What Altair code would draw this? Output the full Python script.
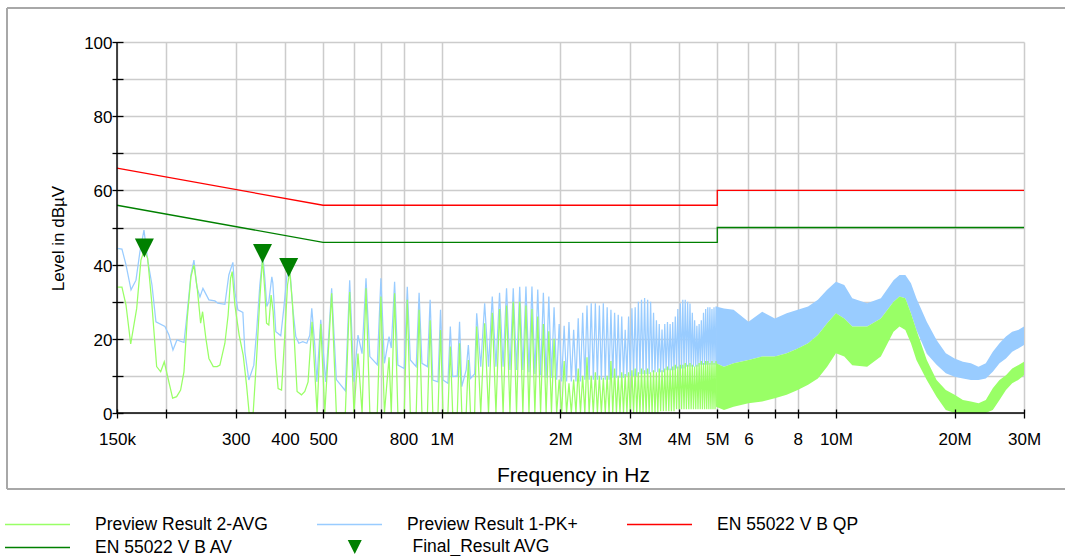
import altair as alt
import pandas as pd

FONT = "Liberation Sans"

# ---------------- data (frequencies in kHz, levels in dBuV) ----------------
LOW_PK_F = [150, 154.4, 158.1, 162.8, 167.6, 171.5, 175.6, 179.7, 184.0, 188.3,
            198.5, 203.2, 208.0, 212.9, 221.8, 225.7, 231.0, 235.1, 239.2, 243.5,
            247.8, 256.6, 265.7, 270.4, 281.7, 288.3, 295.2, 298.6, 303.9, 312.9,
            316.6, 324.0, 333.6, 339.5, 345.5, 351.6, 355.8, 359.9, 364.1, 370.6,
            372.8, 379.3, 383.8, 390.5, 397.4, 404.5, 411.6, 418.9, 426.3, 433.8,
            444.0, 454.6, 462.6, 468.0, 476.3, 481.9, 493.2, 507.8]
LOW_PK = [44.4, 44.2, 39.9, 33.2, 35.8, 43.5, 49.3, 40.8, 34.5, 24.6,
          23.3, 21.0, 17.0, 19.7, 19.0, 26.4, 37.2, 41.2, 34.0, 31.3,
          33.6, 30.5, 30.2, 29.6, 29.3, 37.2, 40.6, 32.7, 27.8, 27.1,
          16.5, 8.9, 12.9, 22.8, 34.5, 42.6, 36.3, 28.7, 30.0, 36.7,
          35.0, 21.9, 21.5, 20.8, 28.2, 36.7, 39.0, 28.2, 20.6, 18.8,
          19.2, 18.8, 21.0, 28.2, 18.3, 8.4, 25.1, 8.4]

LOW_AVG_F = [150, 154.4, 158.1, 162.5, 168.3, 172.5, 175.9, 179.4, 183.7, 189.1,
             193.6, 197.7, 203.5, 207.6, 212.5, 217.5, 221.8, 226.1, 231.0, 235.1,
             239.7, 244.5, 247.3, 252.1, 256.6, 263.2, 269.3, 273.6, 281.7, 287.1,
             291.2, 294.0, 298.6, 306.2, 313.5, 319.7, 324.6, 332.3, 339.0, 345.5,
             351.0, 355.8, 359.3, 364.1, 369.0, 373.4, 378.7, 384.5, 392.2, 399.8,
             406.1, 411.6, 418.2, 426.3, 429.5, 440.7, 449.3, 458.0, 468.8, 476.3,
             482.7, 493.2, 505.0]
LOW_AVG = [33.9, 33.9, 29.1, 18.6, 28.2, 41.2, 43.9, 41.7, 30.0, 12.5,
           11.1, 13.8, 8.0, 4.0, 4.4, 6.2, 11.1, 25.5, 36.7, 39.9,
           33.6, 24.2, 27.3, 20.1, 14.7, 12.5, 12.5, 12.9, 18.8, 26.4,
           36.3, 38.1, 29.1, 21.0, 15.6, 7.5, 0.0, 0.0, 14.7, 30.9,
           41.7, 32.7, 24.2, 23.7, 31.8, 27.3, 14.7, 6.6, 6.2, 21.0,
           34.5, 38.1, 29.1, 12.0, 5.8, 4.9, 5.8, 8.4, 24.6, 11.1,
           0.0, 24.0, 0.0]

HF_KHZ = [525.6, 540.2, 569.4, 584.0, 598.6, 613.0, 627.8, 642.4, 657.0, 686.2,
          700.8, 715.4, 735.0, 744.6, 759.2, 773.8, 803.0, 817.6, 832.2, 861.4,
          876.0, 890.6, 919.8, 934.4, 949.0, 978.2, 992.8, 1007.4, 1036.6, 1051.2,
          1065.8, 1095.0, 1109.6, 1124.2, 1153.4, 1168.0, 1182.6, 1211.8,
          1226.4, 1255.6, 1284.8, 1314.0, 1343.2, 1372.4, 1401.6, 1430.8,
          1460.0, 1489.2, 1518.4, 1547.6, 1576.8, 1606.0, 1635.2, 1664.4,
          1693.6, 1722.8, 1752.0, 1781.2, 1810.4, 1839.6, 1868.8, 1898.0,
          1927.2, 1956.4, 1985.6, 2014.8, 2044.0, 2073.2, 2102.4, 2131.6,
          2160.8, 2190.0, 2219.2, 2248.4, 2277.6, 2306.8, 2336.0, 2365.2,
          2394.4, 2423.6, 2452.8, 2482.0, 2511.2, 2540.4, 2569.6, 2598.8,
          2628.0, 2657.2, 2686.4, 2715.6, 2744.8, 2774.0, 2803.2, 2832.4,
          2861.6, 2890.8, 2920.0, 2949.2, 2978.4, 3007.6, 3036.8, 3066.0,
          3095.2, 3124.4, 3153.6, 3182.8, 3212.0, 3241.2, 3270.4, 3299.6,
          3328.8, 3358.0, 3387.2, 3416.4, 3445.6, 3474.8, 3504.0, 3533.2,
          3562.4, 3591.6, 3620.8, 3650.0, 3679.2, 3708.4, 3737.6, 3766.8,
          3796.0, 3825.2, 3854.4, 3883.6, 3912.8, 3942.0, 3971.2, 4000.4,
          4029.6, 4058.8, 4088.0, 4117.2, 4146.4, 4175.6, 4204.8, 4234.0,
          4263.2, 4292.4, 4321.6, 4350.8, 4380.0, 4409.2, 4438.4, 4467.6,
          4496.8, 4526.0, 4555.2, 4584.4, 4613.6, 4642.8, 4672.0, 4701.2,
          4730.4, 4759.6, 4788.8, 4818.0, 4847.2, 4876.4, 4905.6, 4934.8,
          4964.0]
HF_PK = [33.6, 9.0, 6.0, 35.8, 8.4, 21.0, 16.0, 36.3, 15.2, 13.0,
         36.3, 13.4, 20.6, 17.5, 35.4, 12.9, 12.0, 34.0, 14.3, 12.5,
         32.4, 13.4, 12.5, 30.5, 8.9, 8.4, 27.8, 8.9, 8.0, 23.3,
         9.8, 10.0, 24.6, 7.1, 11.6, 18.3, 9.3, 10.5,
         26.9, 12.5, 29.6, 12.5, 31.4, 12.5, 32.4, 12.5,
         33.6, 11.6, 33.6, 11.6, 34.0, 11.6, 34.1, 11.0,
         34.1, 10.5, 33.3, 10.2, 32.4, 9.5, 31.4, 9.5,
         28.5, 9.0, 24.0, 8.5, 23.5, 8.5, 24.5, 8.5,
         22.4, 8.5, 25.5, 8.5, 27.0, 9.0, 29.0, 9.0,
         29.6, 9.0, 29.6, 9.0, 29.0, 9.0, 29.6, 9.0,
         28.5, 9.0, 27.8, 9.5, 27.0, 9.5, 26.5, 9.5,
         26.0, 9.5, 22.4, 10.0, 26.0, 10.0, 28.2, 10.0,
         28.5, 10.0, 30.0, 10.5, 30.5, 10.5, 31.0, 10.5,
         30.5, 10.5, 30.0, 11.0, 27.0, 11.0, 25.0, 11.0,
         24.0, 11.0, 22.5, 11.0, 24.0, 11.5, 24.5, 11.5,
         24.0, 11.5, 24.5, 11.5, 26.0, 12.0, 28.0, 12.0,
         29.6, 12.0, 30.5, 12.0, 30.5, 12.5, 30.0, 12.5,
         29.5, 12.5, 27.0, 12.5, 25.0, 12.5, 23.5, 12.5,
         24.0, 13.0, 25.0, 13.0, 27.0, 13.0, 28.0, 13.0,
         28.5, 13.0, 28.5, 13.0, 28.0, 13.0, 28.5, 13.0,
         28.7]
HF_AVG = [32.3, 0.0, 0.0, 32.6, 0.0, 16.0, 0.0, 33.6, 0.0, 0.0,
          31.4, 0.0, 15.0, 0.0, 32.3, 0.0, 0.0, 30.5, 0.0, 0.0,
          27.8, 0.0, 0.0, 25.0, 0.0, 0.0, 22.4, 0.0, 0.0, 17.9,
          0.0, 0.0, 18.8, 0.0, 0.0, 14.3, 0.0, 0.0,
          23.3, 0.0, 24.2, 0.0, 27.0, 0.0, 28.0, 0.0,
          29.0, 0.0, 30.0, 0.0, 30.0, 0.0, 29.0, 0.0,
          28.0, 0.0, 26.0, 0.0, 24.0, 0.0, 22.0, 0.0,
          20.0, 0.0, 9.0, 0.0, 14.0, 0.0, 8.0, 0.0,
          9.0, 0.0, 12.0, 0.0, 10.0, 0.0, 15.0, 0.0,
          10.0, 0.0, 11.0, 0.0, 10.0, 0.0, 9.5, 0.0,
          10.0, 0.0, 14.0, 0.0, 12.0, 0.0, 10.0, 0.0,
          11.0, 0.0, 10.5, 0.0, 11.0, 0.0, 11.5, 0.0,
          12.0, 0.0, 11.0, 0.0, 12.0, 0.0, 11.5, 0.0,
          12.0, 0.0, 11.0, 0.0, 11.5, 0.0, 11.0, 0.0,
          12.0, 0.5, 11.5, 0.5, 12.0, 0.5, 12.5, 0.5,
          12.0, 0.5, 12.5, 0.5, 13.0, 1.0, 12.5, 1.0,
          13.0, 1.0, 13.0, 1.0, 13.5, 1.0, 13.0, 1.0,
          13.5, 1.0, 13.0, 1.0, 12.5, 1.0, 13.0, 1.0,
          13.5, 1.0, 14.0, 1.0, 13.5, 1.0, 14.0, 1.0,
          14.0, 1.0, 13.5, 1.0, 14.0, 1.0, 13.5, 1.0,
          14.0]

BAND_F = [4964, 5200, 5500, 6000, 6500, 7000, 7500, 8000, 8500, 9000,
          9500, 10000, 10500, 11000, 12000, 13000, 14000, 14500, 15000, 15500,
          16000, 17000, 18000, 19000, 20000, 21000, 22000, 23000, 24000, 25000,
          26000, 27000, 28000, 29000, 30000]
PK_HI = [28.7, 28.2, 27.8, 24.6, 27.3, 25.5, 26.9, 27.8, 28.7, 30.5,
         33.2, 35.4, 34.5, 30.9, 29.6, 30.9, 35.8, 37.2, 37.2, 35.0,
         30.9, 24.6, 19.7, 16.1, 14.7, 13.8, 13.4, 12.5, 13.4, 16.5,
         18.8, 20.6, 21.9, 22.4, 23.3]
PK_LO = [13.4, 12.5, 13.4, 14.3, 15.2, 15.2, 16.1, 17.4, 18.8, 21.0,
         24.2, 26.9, 25.5, 23.3, 23.3, 25.5, 30.0, 31.4, 30.9, 26.9,
         22.4, 16.0, 13.0, 10.7, 9.8, 9.3, 8.9, 8.9, 9.3, 11.1,
         13.4, 14.7, 16.5, 17.4, 18.3]
AVG_HI = [13.4, 12.5, 13.4, 14.3, 15.2, 15.2, 16.1, 17.4, 18.8, 21.0,
          24.2, 26.9, 25.5, 23.3, 23.3, 25.5, 30.0, 31.4, 30.9, 26.9,
          22.4, 14.3, 8.9, 6.2, 4.9, 3.5, 3.1, 2.6, 3.5, 6.7,
          8.9, 10.2, 12.0, 12.9, 13.8]
AVG_LO = [1.7, 0.8, 1.7, 2.6, 3.1, 4.0, 4.9, 6.2, 7.6, 9.3,
          12.5, 16.1, 15.2, 12.9, 12.5, 15.2, 21.9, 23.3, 22.4, 18.8,
          14.3, 8.9, 4.4, 0.8, 0.0, 0.0, 0.0, 0.0, 0.0, 0.8,
          3.5, 6.2, 8.0, 8.9, 10.2]

LIMIT_F = [150, 500, 5000, 5000, 30000]
QP_LIMIT = [66, 56, 56, 60, 60]
AV_LIMIT = [56, 46, 46, 50, 50]

FINAL_F = [176, 351, 409]
FINAL_V = [44.5, 43.0, 39.2]

SERIES = ["Preview Result 2-AVG", "Preview Result 1-PK+",
          "EN 55022 V B QP", "EN 55022 V B AV"]
SERIES_COLORS = ["#99ff66", "#99ccff", "#ff0000", "#008000"]
FINAL_NAME = "Final_Result AVG"

X_TICKS = [150, 200, 300, 400, 500, 600, 700, 800, 1000, 2000, 3000, 4000,
           5000, 6000, 7000, 8000, 10000, 20000, 30000]
X_LABELS = ["150k", "", "300", "400", "500", "", "", "800", "1M", "2M", "3M",
            "4M", "5M", "6", "", "8", "10M", "20M", "30M"]
Y_TICKS = [0, 10, 20, 30, 40, 50, 60, 70, 80, 90, 100]

# ---------------- tables ----------------
pk = pd.DataFrame({"f": LOW_PK_F + HF_KHZ, "v": LOW_PK + HF_PK})
pk["series"] = SERIES[1]
pk["i"] = range(len(pk))
avg = pd.DataFrame({"f": LOW_AVG_F + HF_KHZ, "v": LOW_AVG + HF_AVG})
avg["series"] = SERIES[0]
avg["i"] = range(len(avg))
band = pd.DataFrame({"f": BAND_F, "pk_lo": PK_LO, "pk_hi": PK_HI,
                     "avg_lo": AVG_LO, "avg_hi": AVG_HI})
lim = pd.concat([
    pd.DataFrame({"f": LIMIT_F, "v": QP_LIMIT, "series": SERIES[2], "i": range(5)}),
    pd.DataFrame({"f": LIMIT_F, "v": AV_LIMIT, "series": SERIES[3], "i": range(5)}),
])
fin = pd.DataFrame({"f": FINAL_F, "v": FINAL_V, "series": FINAL_NAME})

xs = alt.Scale(type="log", domain=[150, 30000], nice=False)
ys = alt.Scale(domain=[0, 100], nice=False, zero=False)
cs = alt.Scale(domain=SERIES, range=SERIES_COLORS)

label_expr = "''"
for tv, tl in reversed(list(zip(X_TICKS, X_LABELS))):
    label_expr = f"datum.value == {tv} ? '{tl}' : ({label_expr})"

x_main = alt.Axis(orient="bottom", values=X_TICKS, labelExpr=label_expr,
                  grid=True, gridColor="#cccccc", gridWidth=1.5,
                  ticks=False, domain=False, labelFont=FONT, labelFontSize=17,
                  labelColor="black", labelPadding=31, labelBaseline="alphabetic",
                  labelFlush=False, labelOverlap=False, labelBound=False,
                  title="Frequency in Hz", titleFont=FONT, titleFontSize=21,
                  titleFontWeight="normal", titleColor="black", titleX=456,
                  titleY=68, titleBaseline="alphabetic", titleAlign="center")
y_main = alt.Axis(orient="left", values=Y_TICKS,
                  labelExpr="datum.value % 20 === 0 ? datum.label : ''",
                  grid=True, gridColor="#cccccc", gridWidth=1.5,
                  ticks=False, domain=False, labelFont=FONT, labelFontSize=17,
                  labelColor="black", labelPadding=5, labelOffset=1.5,
                  labelFlush=False, labelOverlap=False,
                  title="Level in dB\u00b5V", titleFont=FONT, titleFontSize=17,
                  titleFontWeight="normal", titleColor="black", titleX=-54,
                  titleY=196, titleAngle=270, titleBaseline="alphabetic",
                  titleAlign="center")
x_tick = alt.Axis(orient="bottom", values=X_TICKS, grid=False, labels=False,
                  domain=False, ticks=True, tickColor="black", tickSize=9,
                  tickWidth=1.3, offset=-4, title=None, zindex=1)
y_tick = alt.Axis(orient="left", values=Y_TICKS, grid=False, labels=False,
                  domain=False, ticks=True, tickColor="black", tickSize=11,
                  tickWidth=1.3, offset=-6, title=None, zindex=1)

legend_lines = alt.Legend(title=None, orient="none", direction="horizontal",
                          legendX=-113, legendY=471,
                          columns=3, symbolType="stroke", symbolSize=4225,
                          symbolStrokeWidth=1.4, clipHeight=23, rowPadding=0,
                          columnPadding=48, labelOffset=24, padding=0,
                          labelFont=FONT, labelFontSize=17.5, labelColor="black",
                          labelLimit=400)

TRI = "M-1,-1L1,-1L0,1Z"
legend_tri = alt.Legend(title=None, orient="none", legendX=229, legendY=493.5,
                        symbolSize=196, symbolFillColor="#008000",
                        symbolStrokeColor="#008000", symbolStrokeWidth=0,
                        clipHeight=23, labelOffset=49, padding=0,
                        labelFont=FONT, labelFontSize=17.5, labelColor="black",
                        labelLimit=400)

pk_band = alt.Chart(band).mark_area(color="#99ccff", opacity=1).encode(
    x=alt.X("f:Q", scale=xs, axis=None),
    y=alt.Y("pk_lo:Q", scale=ys, axis=None), y2="pk_hi:Q")

pk_line = alt.Chart(pk).mark_line(strokeWidth=1.25).encode(
    x=alt.X("f:Q", scale=xs, axis=x_main),
    y=alt.Y("v:Q", scale=ys, axis=y_main),
    color=alt.Color("series:N", scale=cs, legend=legend_lines),
    order="i:Q")

avg_line = alt.Chart(avg).mark_line(strokeWidth=1.25).encode(
    x=alt.X("f:Q", scale=xs, axis=x_tick),
    y=alt.Y("v:Q", scale=ys, axis=y_tick),
    color=alt.Color("series:N", scale=cs, legend=legend_lines),
    order="i:Q")

avg_band = alt.Chart(band).mark_area(color="#99ff66", opacity=1).encode(
    x=alt.X("f:Q", scale=xs, axis=None),
    y=alt.Y("avg_lo:Q", scale=ys, axis=None), y2="avg_hi:Q")

lim_lines = alt.Chart(lim).mark_line(strokeWidth=1.3).encode(
    x=alt.X("f:Q", scale=xs, axis=None),
    y=alt.Y("v:Q", scale=ys, axis=None),
    color=alt.Color("series:N", scale=cs, legend=legend_lines),
    detail="series:N", order="i:Q")

tri = alt.Chart(fin).mark_point(filled=True, size=361, opacity=1,
                                color="#008000", strokeWidth=0).encode(
    x=alt.X("f:Q", scale=xs, axis=None),
    y=alt.Y("v:Q", scale=ys, axis=None),
    shape=alt.Shape("series:N", scale=alt.Scale(domain=[FINAL_NAME], range=[TRI]),
                    legend=legend_tri))

x_axis_line = alt.Chart(pd.DataFrame({"v": [0]})).mark_rule(
    color="black", strokeWidth=1.4).encode(y=alt.Y("v:Q", scale=ys, axis=None))
y_axis_line = alt.Chart(pd.DataFrame({"f": [150]})).mark_rule(
    color="black", strokeWidth=1.4).encode(x=alt.X("f:Q", scale=xs, axis=None))

one = pd.DataFrame({"k": [0]})
frame_top = alt.Chart(one).mark_rule(color="#a8a8a8", strokeWidth=2).encode(
    x=alt.value(-110), x2=alt.value(960), y=alt.value(-34))
frame_bottom = alt.Chart(one).mark_rule(color="#a8a8a8", strokeWidth=2).encode(
    x=alt.value(-110), x2=alt.value(960), y=alt.value(447))
frame_left = alt.Chart(one).mark_rule(color="#a8a8a8", strokeWidth=2).encode(
    x=alt.value(-110), y=alt.value(-34), y2=alt.value(447))

chart = alt.layer(
    pk_band, pk_line, avg_line, avg_band, lim_lines, tri,
    x_axis_line, y_axis_line, frame_top, frame_bottom, frame_left
).resolve_axis(x="independent", y="independent").properties(
    width=907, height=371,
    padding={"left": 117, "top": 42, "right": 41, "bottom": 143},
    autosize=alt.AutoSizeParams(type="none"),
    background="white",
).configure_view(strokeWidth=0)

chart.save("out.html", embed_options={"renderer": "svg", "actions": False})
